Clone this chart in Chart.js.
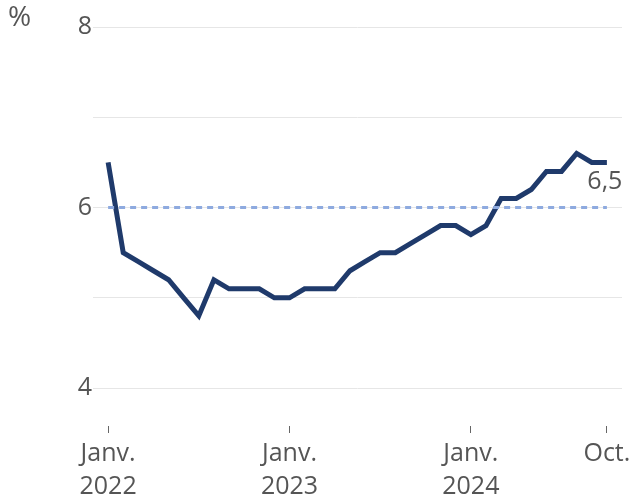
<!DOCTYPE html>
<html>
<head>
<meta charset="utf-8">
<script src="https://cdn.jsdelivr.net/npm/chart.js@4/dist/chart.umd.min.js"></script>
<style>
  html, body { margin: 0; padding: 0; background: #ffffff; }
  #wrap { width: 632px; height: 498px; position: relative; }
</style>
</head>
<body>
<div id="wrap"><canvas id="c" width="632" height="498"></canvas></div>
<script>
// Months Jan 2022 .. Oct 2024
const months = [
  "2022-01","2022-02","2022-03","2022-04","2022-05","2022-06","2022-07","2022-08","2022-09","2022-10","2022-11","2022-12",
  "2023-01","2023-02","2023-03","2023-04","2023-05","2023-06","2023-07","2023-08","2023-09","2023-10","2023-11","2023-12",
  "2024-01","2024-02","2024-03","2024-04","2024-05","2024-06","2024-07","2024-08","2024-09","2024-10"
];
const values = [
  6.5, 5.5, 5.4, 5.3, 5.2, 5.0, 4.8, 5.2, 5.1, 5.1, 5.1, 5.0,
  5.0, 5.1, 5.1, 5.1, 5.3, 5.4, 5.5, 5.5, 5.6, 5.7, 5.8, 5.8,
  5.7, 5.8, 6.1, 6.1, 6.2, 6.4, 6.4, 6.6, 6.5, 6.5
];
const targetValue = 6;
const xTickIndex = [0, 12, 24, 33];
const xTickLabels = [["Janv.", "2022"], ["Janv.", "2023"], ["Janv.", "2024"], ["Oct."]];
const yTicks = [4, 5, 6, 7, 8];
const yLabelled = [4, 6, 8];
const lastLabel = "6,5";
const unitLabel = "%";

const FONT = "'Open Sans', 'DejaVu Sans', sans-serif";
const TEXT = "#555555";

const seriesData = values.map((v, i) => ({ x: i, y: v }));
const targetData = [{ x: 0, y: targetValue }, { x: months.length - 1, y: targetValue }];

const annotate = {
  id: 'annotate',
  afterDatasetsDraw(chart) {
    const ctx = chart.ctx;
    const xs = chart.scales.x, ys = chart.scales.y;
    ctx.save();
    ctx.fillStyle = TEXT;
    ctx.font = "25px " + FONT;
    const li = values.length - 1;
    ctx.textAlign = 'center';
    ctx.textBaseline = 'top';
    ctx.fillText(lastLabel, xs.getPixelForValue(li) - 2, ys.getPixelForValue(values[li]) + 7);
    ctx.font = "28px " + FONT;
    ctx.textAlign = 'left';
    ctx.textBaseline = 'middle';
    ctx.fillText(unitLabel, 8, 18);
    ctx.restore();
  }
};

new Chart(document.getElementById('c'), {
  type: 'line',
  data: {
    datasets: [
      {
        data: seriesData,
        borderColor: '#1f3a6b',
        borderWidth: 5,
        pointRadius: 0,
        tension: 0,
        fill: false,
        borderJoinStyle: 'miter',
        order: 2
      },
      {
        data: targetData,
        borderColor: '#8eaadf',
        borderWidth: 3,
        borderDash: [6, 5],
        pointRadius: 0,
        fill: false,
        order: 1
      }
    ]
  },
  options: {
    responsive: false,
    animation: false,
    events: [],
    layout: { padding: { top: 27, right: 10, left: 0, bottom: 0 } },
    plugins: { legend: { display: false }, tooltip: { enabled: false }, title: { display: false } },
    scales: {
      x: {
        type: 'linear',
        min: -1,
        max: 34,
        afterBuildTicks(scale) { scale.ticks = xTickIndex.map(v => ({ value: v })); },
        afterFit(scale) { scale.height = 72; scale.paddingLeft = 0; scale.paddingRight = 0; },
        border: { display: false },
        grid: { drawOnChartArea: false, drawTicks: true, tickLength: 7, tickColor: '#666666', tickWidth: 1 },
        ticks: {
          autoSkip: false,
          maxRotation: 0,
          padding: 4,
          color: TEXT,
          font: { family: FONT, size: 25, lineHeight: 1.32 },
          callback(v) { const k = xTickIndex.indexOf(v); return k >= 0 ? xTickLabels[k] : ''; }
        }
      },
      y: {
        min: 3.58,
        max: 8,
        afterBuildTicks(scale) { scale.ticks = yTicks.map(v => ({ value: v })); },
        afterFit(scale) { scale.width = 93; scale.paddingTop = 0; scale.paddingBottom = 0; },
        border: { display: false },
        grid: { color: '#e6e6e6', lineWidth: 1, drawTicks: false },
        ticks: {
          padding: 1,
          color: TEXT,
          font: { family: FONT, size: 25 },
          callback(v) { return yLabelled.includes(v) ? String(v) : ''; }
        }
      }
    }
  },
  plugins: [annotate]
});
</script>
</body>
</html>
